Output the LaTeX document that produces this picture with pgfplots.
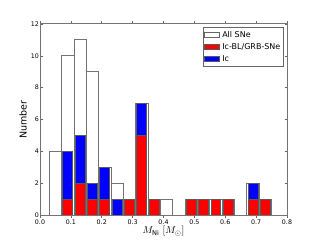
\documentclass[border=0pt]{standalone}
\usepackage{fontspec}
\setmainfont{DejaVu Sans}
\usepackage{pgfplots}
\pgfplotsset{compat=1.18}
\begin{document}
\begin{tikzpicture}
\useasboundingbox (-40bp,-25bp) rectangle (280bp,215bp);
\begin{axis}[
  at={(0,0)}, anchor=south west,
  scale only axis, width=247bp, height=191bp,
  xmin=0, xmax=0.8, ymin=0, ymax=12,
  xtick={0,0.1,0.2,0.3,0.4,0.5,0.6,0.7,0.8},
  ytick={0,2,4,6,8,10,12},
  tick align=inside, tick pos=both,
  major tick length=2.5bp,
  every tick/.style={black!60, line width=0.6bp},
  axis line style={black!55, line width=1bp},
  /pgf/number format/assume math mode=true,
  ticklabel style={font=\fontsize{6.3bp}{7bp}\selectfont, inner sep=1bp},
  xticklabel style={/pgf/number format/.cd, fixed, fixed zerofill, precision=1, /tikz/yshift=-1bp},
  yticklabel style={/pgf/number format/.cd, fixed, precision=0},
  xlabel={$M_{\rm Ni}\ [M_\odot]$},
  xlabel style={at={(axis description cs:0.5,-0.084)}, anchor=center, font=\fontsize{9.5bp}{11bp}\selectfont},
  ylabel={Number},
  ylabel style={at={(axis description cs:-0.0688,0.5)}, anchor=center, font=\fontsize{9.5bp}{11bp}\selectfont},
  ybar, bar width=0.04, bar shift=0pt,
]
\addplot[fill=white, draw=black!55, line width=0.9bp] coordinates {
 (0.05,4) (0.09,10) (0.13,11) (0.17,9) (0.21,3) (0.25,2) (0.29,1) (0.33,7)
 (0.37,1) (0.41,1) (0.49,1) (0.53,1) (0.57,1) (0.61,1) (0.69,2) (0.73,1)
};
\end{axis}
\begin{axis}[
  at={(0,0)}, anchor=south west,
  scale only axis, width=247bp, height=191bp,
  xmin=0, xmax=0.8, ymin=0, ymax=12,
  hide axis,
  ybar stacked, bar width=0.032, bar shift=0pt,
  legend style={at={(axis description cs:0.989,0.983)}, anchor=north east,
    draw=black!60, line width=0.8bp, fill=white,
    font=\fontsize{8bp}{9bp}\selectfont,
    inner xsep=1.5bp, inner ysep=1.5bp, row sep=0.6bp,
    /tikz/every even column/.append style={column sep=0bp}},
  legend cell align=left,
  legend image code/.code={\draw[#1, line width=0.8bp] (0bp,-2.2bp) rectangle (15bp,2.2bp);},
]
\addlegendimage{fill=white, draw=black!60}
\addlegendentry{All SNe}
\addplot[fill=red, draw=black!65, line width=0.9bp] coordinates {
 (0.09,1) (0.13,2) (0.17,1) (0.21,1) (0.25,0) (0.29,1) (0.33,5) (0.37,1)
 (0.41,0) (0.45,0) (0.49,1) (0.53,1) (0.57,1) (0.61,1) (0.65,0) (0.69,1) (0.73,1)
};
\addlegendentry{Ic-BL/GRB-SNe}
\addplot[fill=blue, draw=black!65, line width=0.9bp] coordinates {
 (0.09,3) (0.13,3) (0.17,1) (0.21,2) (0.25,1) (0.29,0) (0.33,2) (0.37,0)
 (0.41,0) (0.45,0) (0.49,0) (0.53,0) (0.57,0) (0.61,0) (0.65,0) (0.69,1) (0.73,0)
};
\addlegendentry{Ic}
\end{axis}
\end{tikzpicture}
\end{document}
